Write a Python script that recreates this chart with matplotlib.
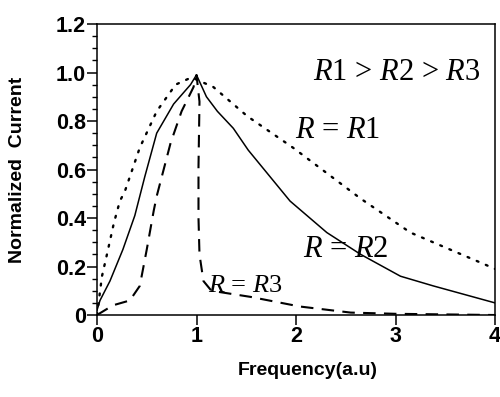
import matplotlib
matplotlib.use('Agg')
import matplotlib.pyplot as plt
from matplotlib.ticker import MultipleLocator

plt.rcParams['font.family'] = ['Liberation Sans', 'DejaVu Sans']
plt.rcParams['mathtext.fontset'] = 'custom'
plt.rcParams['mathtext.it'] = 'Liberation Serif:italic'
plt.rcParams['mathtext.rm'] = 'Liberation Serif'

# curve R = R1 (dotted)
x_r1 = [0, 0.05, 0.1, 0.17, 0.23, 0.28, 0.43, 0.6, 0.79, 0.95, 1.17, 1.51, 1.97, 2.65, 3.15, 3.89, 4.0]
y_r1 = [0.0, 0.16, 0.25, 0.38, 0.47, 0.51, 0.69, 0.84, 0.95, 0.98, 0.94, 0.82, 0.69, 0.48, 0.34, 0.21, 0.19]

# curve R = R2 (solid)
x_r2 = [0, 0.03, 0.13, 0.26, 0.38, 0.48, 0.6, 0.77, 0.94, 1.0, 1.1, 1.21, 1.37, 1.52, 1.94, 2.31, 2.65, 3.05, 3.38, 4.0]
y_r2 = [0.02, 0.06, 0.14, 0.27, 0.41, 0.57, 0.75, 0.87, 0.95, 0.99, 0.90, 0.84, 0.77, 0.68, 0.47, 0.34, 0.25, 0.16, 0.12, 0.05]

# curve R = R3 (dashed)
x_r3 = [0, 0.16, 0.33, 0.43, 0.5, 0.57, 0.6, 0.67, 0.74, 0.85, 0.97, 1.0, 1.03, 1.02, 1.02, 1.03, 1.07, 1.15, 1.54, 2.04, 2.55, 3.0, 4.0]
y_r3 = [0.0, 0.04, 0.06, 0.12, 0.27, 0.43, 0.49, 0.6, 0.71, 0.84, 0.94, 0.99, 0.88, 0.61, 0.4, 0.25, 0.14, 0.1, 0.075, 0.035, 0.01, 0.005, 0.0]

x_ticks = [0, 1, 2, 3, 4]
x_ticklabels = ['0', '1', '2', '3', '4']
y_ticks = [0, 0.2, 0.4, 0.6, 0.8, 1.0, 1.2]
y_ticklabels = ['0', '0.2', '0.4', '0.6', '0.8', '1.0', '1.2']

fig = plt.figure(figsize=(5.0, 3.97), dpi=100)
ax = fig.add_axes([0.194, 0.2065, 0.796, 0.733])

ax.plot(x_r1, y_r1, color='black', linestyle=(0, (0.8, 3.4)), linewidth=1.7, dash_capstyle='round')
ax.plot(x_r2, y_r2, color='black', linestyle='-', linewidth=1.1)
ax.plot(x_r3, y_r3, color='black', linestyle=(0, (6, 4)), linewidth=1.5)

ax.set_xlim(0, 4)
ax.set_ylim(0, 1.2)
ax.set_xticks(x_ticks)
ax.set_xticklabels(x_ticklabels)
ax.set_yticks(y_ticks)
ax.set_yticklabels(y_ticklabels)
ax.yaxis.set_minor_locator(MultipleLocator(0.05))
ax.tick_params(axis='both', which='major', direction='out', length=7, width=1.1,
               labelsize=15.5, pad=1)
ax.tick_params(axis='y', which='minor', direction='out', length=3.5, width=1.0)
for lab in ax.get_xticklabels() + ax.get_yticklabels():
    lab.set_fontweight('bold')
for s in ax.spines.values():
    s.set_linewidth(1.1)

ax.set_xlabel('Frequency(a.u)', fontsize=14, fontweight='bold')
ax.set_ylabel('Normalized  Current', fontsize=14, fontweight='bold')
ax.xaxis.set_label_coords(0.53, -0.16)
ax.yaxis.set_label_coords(-0.178, 0.5)

ax.text(2.17, 0.971, '$R$1 > $R$2 > $R$3', fontsize=22, family='Liberation Serif', va='baseline', ha='left')
ax.text(1.99, 0.73, '$R$ = $R$1', fontsize=22, family='Liberation Serif', va='baseline', ha='left')
ax.text(2.07, 0.24, '$R$ = $R$2', fontsize=22, family='Liberation Serif', va='baseline', ha='left')
ax.text(1.12, 0.095, '$R$ = $R$3', fontsize=19, family='Liberation Serif', va='baseline', ha='left')

fig.savefig('out.png', dpi=100)
